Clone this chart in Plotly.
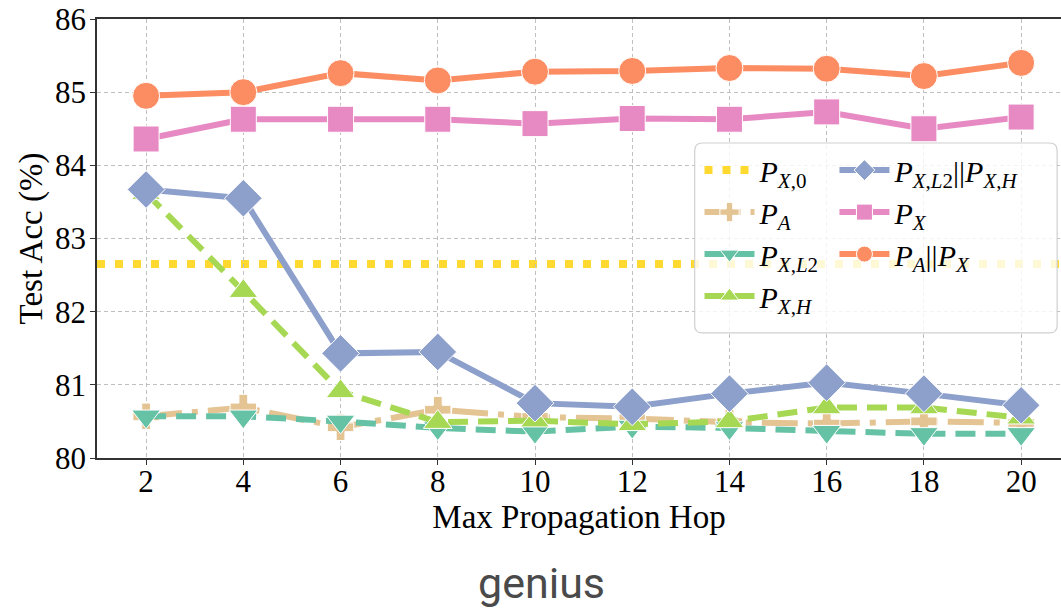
import plotly.graph_objects as go

hops = [2, 4, 6, 8, 10, 12, 14, 16, 18, 20]
p_x0 = 82.65
p_a = [80.57, 80.69, 80.42, 80.66, 80.56, 80.54, 80.49, 80.47, 80.50, 80.48]
p_x_l2 = [80.57, 80.57, 80.50, 80.41, 80.36, 80.43, 80.41, 80.36, 80.33, 80.33]
p_x_h = [83.62, 82.28, 80.91, 80.49, 80.51, 80.46, 80.50, 80.69, 80.69, 80.55]
p_l2_h = [83.67, 83.55, 81.43, 81.45, 80.75, 80.70, 80.88, 81.03, 80.88, 80.72]
p_x = [84.36, 84.63, 84.63, 84.63, 84.57, 84.64, 84.63, 84.73, 84.50, 84.66]
p_a_x = [84.95, 85.00, 85.26, 85.16, 85.28, 85.29, 85.33, 85.32, 85.22, 85.40]
y_ticks = [80, 81, 82, 83, 84, 85, 86]
x_ticks = hops

SERIF = "Liberation Serif, Times New Roman, serif"
C_YEL = "#ffd92f"
C_TAN = "#e5c494"
C_TEAL = "#66c2a5"
C_GREEN = "#a6d854"
C_BLUE = "#8da0cb"
C_PINK = "#e78ac3"
C_ORANGE = "#fc8d62"

fig = go.Figure()

# legend-only entry for the constant baseline
fig.add_trace(go.Scatter(
    x=[None], y=[None], mode="lines", name="<i>P</i><sub><i>X</i>,0</sub>",
    line=dict(color=C_YEL, width=8, dash="8px,10px"), legend="legend"))

def add(y, name, color, symbol, size, dash, legend):
    fig.add_trace(go.Scatter(
        x=hops, y=y, name=name, mode="lines+markers",
        line=dict(color=color, width=6, dash=dash),
        marker=dict(color=color, symbol=symbol, size=size,
                    line=dict(color="white", width=1)),
        legend=legend))

add(p_a, "<i>P</i><sub><i>A</i></sub>", C_TAN, "cross", 22, "36px,10px,6px,10px", "legend")
add(p_x_l2, "<i>P</i><sub><i>X</i>,<i>L</i>2</sub>", C_TEAL, "triangle-down", 25, "20px,10px", "legend")
add(p_x_h, "<i>P</i><sub><i>X</i>,<i>H</i></sub>", C_GREEN, "triangle-up", 25, "20px,10px", "legend")
add(p_l2_h, "<i>P</i><sub><i>X</i>,<i>L</i>2</sub>||<i>P</i><sub><i>X</i>,<i>H</i></sub>", C_BLUE, "diamond", 29, "solid", "legend2")
add(p_x, "<i>P</i><sub><i>X</i></sub>", C_PINK, "square", 26, "solid", "legend2")
add(p_a_x, "<i>P</i><sub><i>A</i></sub>||<i>P</i><sub><i>X</i></sub>", C_ORANGE, "circle", 27, "solid", "legend2")

fig.add_shape(type="line", xref="paper", yref="y", x0=0, x1=1, y0=p_x0, y1=p_x0,
              line=dict(color=C_YEL, width=8, dash="8px,10px"), layer="below")

# legend frame
x0, x1, y0, y1, r = 0.620, 0.996, 0.285, 0.7175, 0.008
ry = r * 964 / 439
path = (f"M {x0+r},{y0} L {x1-r},{y0} Q {x1},{y0} {x1},{y0+ry} L {x1},{y1-ry} "
        f"Q {x1},{y1} {x1-r},{y1} L {x0+r},{y1} Q {x0},{y1} {x0},{y1-ry} "
        f"L {x0},{y0+ry} Q {x0},{y0} {x0+r},{y0} Z")
fig.add_shape(type="path", path=path, xref="paper", yref="paper",
              fillcolor="rgba(255,255,255,0.8)", line=dict(color="#d0d0d0", width=1.2),
              layer="above")

fig.add_annotation(text="genius", xref="paper", yref="paper", x=0.4616, y=-0.346,
                   xanchor="center", yanchor="bottom", showarrow=False,
                   font=dict(family="Roboto, Arial, sans-serif", size=43, color="#4a4a4a"))

legend_common = dict(bgcolor="rgba(0,0,0,0)", borderwidth=0, itemwidth=50,
                     font=dict(family=SERIF, size=30, color="black"),
                     xanchor="left", yanchor="top", tracegroupgap=0)
fig.update_layout(
    width=1061, height=611,
    margin=dict(l=97, r=0, t=19, b=153),
    plot_bgcolor="white", paper_bgcolor="white",
    font=dict(family=SERIF, size=30, color="black"),
    showlegend=True,
    legend=dict(x=0.625, y=0.715, **legend_common),
    legend2=dict(x=0.765, y=0.715, **legend_common),
    xaxis=dict(range=[0.99, 20.82], tickvals=x_ticks, ticktext=[str(v) for v in x_ticks],
               showgrid=True, gridcolor="#c0c0c0", griddash="4px,3px", gridwidth=1,
               showline=True, linecolor="#333", linewidth=1.5, mirror=True,
               ticks="outside", ticklen=5, tickcolor="#333", ticklabelstandoff=-10,
               tickfont=dict(family=SERIF, size=31),
               title=dict(text="Max Propagation Hop", font=dict(family=SERIF, size=33), standoff=6),
               zeroline=False),
    yaxis=dict(range=[80, 86], tickvals=y_ticks, ticktext=[str(v) for v in y_ticks],
               showgrid=True, gridcolor="#c0c0c0", griddash="4px,3px", gridwidth=1,
               showline=True, linecolor="#333", linewidth=1.5, mirror=False,
               ticks="outside", ticklen=5, tickcolor="#333", ticklabelstandoff=-2,
               tickfont=dict(family=SERIF, size=31),
               title=dict(text="Test Acc (%)", font=dict(family=SERIF, size=33), standoff=2),
               zeroline=False),
)

fig.write_html("out.html")
